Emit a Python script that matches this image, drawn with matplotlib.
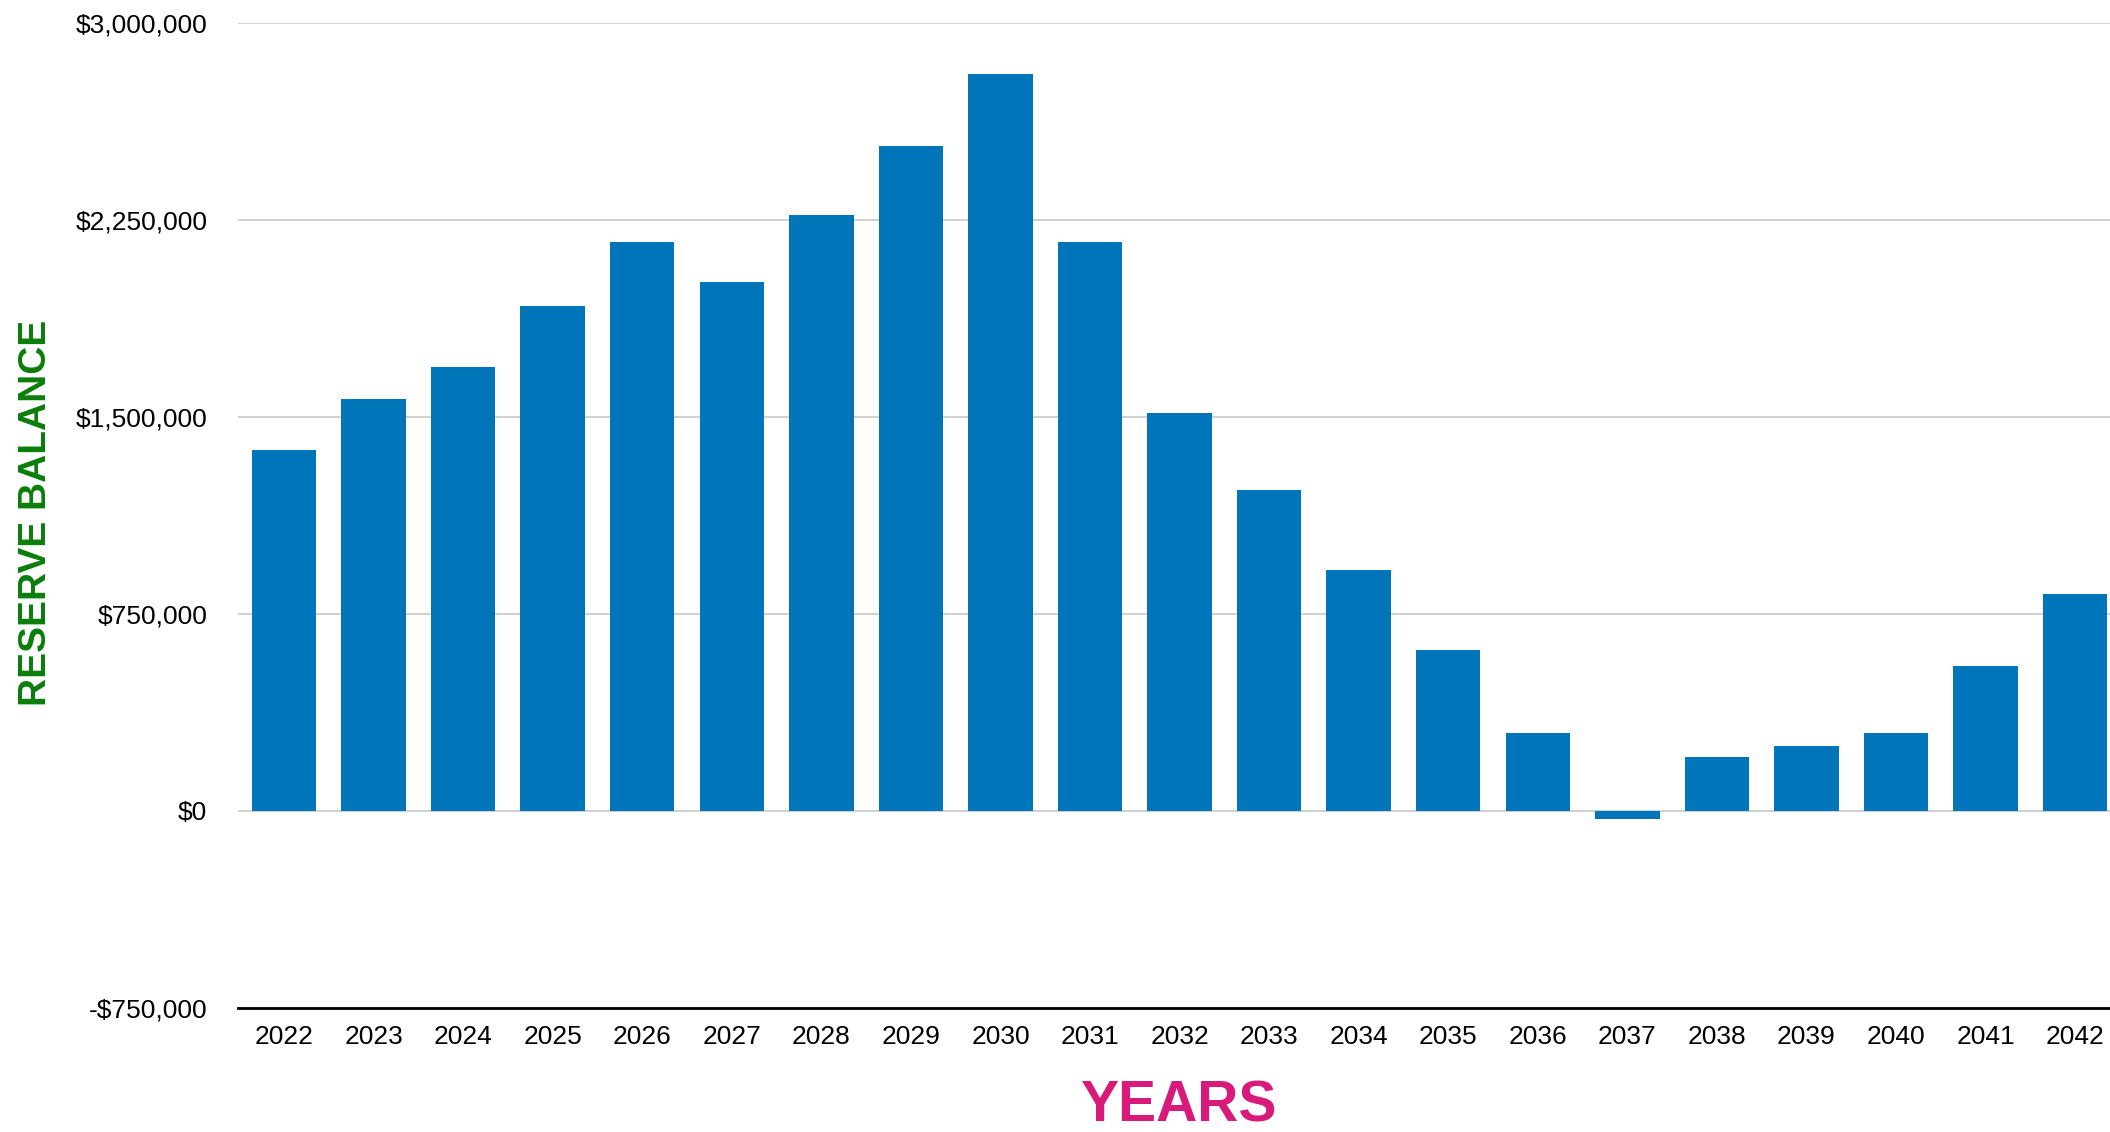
import matplotlib
matplotlib.use("Agg")
import matplotlib.pyplot as plt
from matplotlib.ticker import FuncFormatter

years = [str(y) for y in range(2022, 2043)]
balances = [1374000, 1568000, 1690000, 1923000, 2166000, 2014000, 2269000,
            2532000, 2806000, 2166000, 1515000, 1222000, 917500, 613000,
            297000, -29000, 206000, 247000, 297000, 552000, 826000]
y_ticks = [-750000, 0, 750000, 1500000, 2250000, 3000000]

plt.rcParams['font.family'] = ['Liberation Sans', 'DejaVu Sans']

W, H = 2110, 1132
fig = plt.figure(figsize=(W / 100, H / 100), dpi=100)
left, right, top, bottom = 238, 2110, 23, 1008
ax = fig.add_axes([left / W, 1 - bottom / H, (right - left) / W, (bottom - top) / H])

x = list(range(len(years)))
ax.bar(x, balances, width=0.72, color='#0075BA', zorder=3)

ax.set_xlim(-0.514, 20.39)
ax.set_ylim(-750000, 3000000)
ax.set_yticks(y_ticks)
ax.yaxis.set_major_formatter(FuncFormatter(
    lambda v, p: ('-$' if v < 0 else '$') + f"{abs(int(v)):,}"))
ax.set_xticks(x)
ax.set_xticklabels(years)

ax.grid(axis='y', color='#c8c8c8', linewidth=1.2, zorder=0)
ax.grid(axis='x', visible=False)
for s in ['left', 'right', 'top']:
    ax.spines[s].set_visible(False)
ax.spines['bottom'].set_color('black')
ax.spines['bottom'].set_linewidth(2.0)
ax.spines['bottom'].set_zorder(4)

ax.tick_params(axis='y', length=0, pad=22, labelsize=19, labelcolor='black')
ax.tick_params(axis='x', length=0, pad=12, labelsize=19, labelcolor='black')

fig.text(36 / W, 1 - 513 / H, 'RESERVE BALANCE', rotation=90, ha='center',
         va='center', fontsize=28, fontweight='bold', color='#0a7d0a')
fig.text(1179 / W, 1 - 1106 / H, 'YEARS', ha='center', va='center',
         fontsize=41, fontweight='bold', color='#d81b7a')

fig.savefig('out.png', dpi=100, facecolor='white')
